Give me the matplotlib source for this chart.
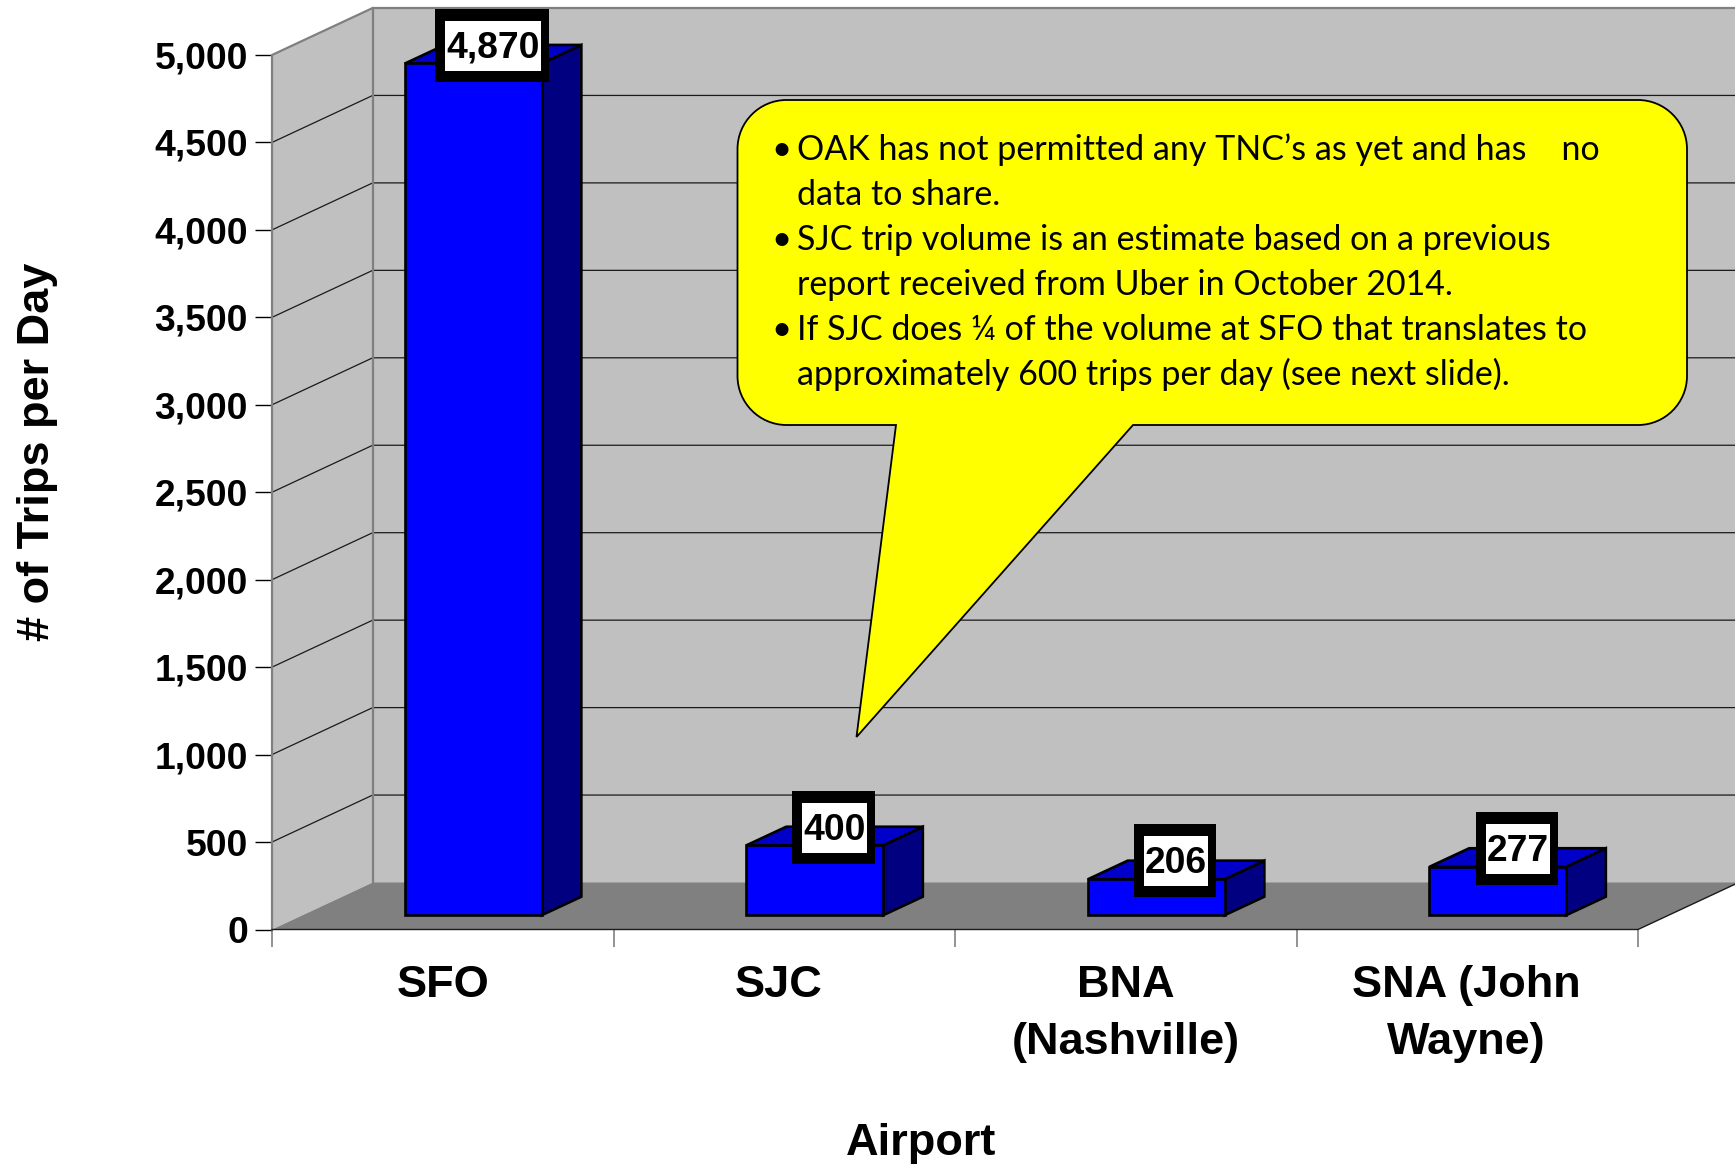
import matplotlib
matplotlib.use("Agg")
import matplotlib.pyplot as plt
from matplotlib.patches import PathPatch, Rectangle
from matplotlib.path import Path
from matplotlib.transforms import Affine2D

W, H = 1735, 1165

# Data
airports = ["SFO", "SJC", "BNA\n(Nashville)", "SNA (John\nWayne)"]
trips = [4870, 400, 206, 277]
value_labels = ["4,870", "400", "206", "277"]
y_ticks = [0, 500, 1000, 1500, 2000, 2500, 3000, 3500, 4000, 4500, 5000]
y_tick_labels = ["0", "500", "1,000", "1,500", "2,000", "2,500", "3,000", "3,500", "4,000", "4,500", "5,000"]
callout_lines = [
    "OAK has not permitted any TNC\u2019s as yet and has    no",
    "data to share.",
    "SJC trip volume is an estimate based on a previous",
    "report received from Uber in October 2014.",
    "If SJC does \u00bc of the volume at SFO that translates to",
    "approximately 600 trips per day (see next slide).",
]
callout_bullets = [True, False, True, False, True, False]

plt.rcParams["font.family"] = ["Liberation Sans", "DejaVu Sans"]
fig = plt.figure(figsize=(W / 100, H / 100), dpi=100, facecolor="white")

# Front plane of the fake 3D chart
left, right, y0, y5000 = 272, 1638, 929.5, 55
ax = fig.add_axes([left / W, 1 - y0 / H, (right - left) / W, (y0 - y5000) / H])
ax.set_xlim(0, 4)
ax.set_ylim(0, 5000)
for s in ax.spines.values():
    s.set_visible(False)
ax.patch.set_visible(False)

# Depth direction in data units
DX = 100.7 / ((right - left) / 4)
DY = 47.0 / ((y0 - y5000) / 5000)


def proj(x, y, d=0.0):
    return x + d * DX, y + d * DY


def face(points, **kw):
    xs, ys = zip(*[proj(*p) for p in points])
    ax.fill(xs, ys, clip_on=False, **kw)


# Walls and floor
face([(0, 0, 1), (4, 0, 1), (4, 5000, 1), (0, 5000, 1)], fc="#c0c0c0", ec="none", zorder=1)
face([(0, 0, 0), (0, 0, 1), (0, 5000, 1), (0, 5000, 0)], fc="#c0c0c0", ec="none", zorder=1)
face([(0, 0, 0), (4, 0, 0), (4, 0, 1), (0, 0, 1)], fc="#808080", ec="none", zorder=1)

# Gridlines on both walls
for v in y_ticks[1:-1]:
    xs, ys = zip(proj(0, v, 0), proj(0, v, 1), proj(4, v, 1))
    ax.plot(xs, ys, color="#1a1a1a", lw=0.9, clip_on=False, zorder=2)

# Wall borders
xs, ys = zip(proj(0, 0, 0), proj(0, 5000, 0), proj(0, 5000, 1), proj(4, 5000, 1))
ax.plot(xs, ys, color="#808080", lw=1.6, clip_on=False, zorder=2)
xs, ys = zip(proj(0, 0, 1), proj(0, 5000, 1))
ax.plot(xs, ys, color="#808080", lw=1.6, clip_on=False, zorder=2)
xs, ys = zip(proj(0, 0, 0), proj(4, 0, 0), proj(4, 0, 1))
ax.plot(xs, ys, color="#1a1a1a", lw=1.0, clip_on=False, zorder=2)

# Axes ticks and labels
ax.set_yticks(y_ticks)
ax.set_yticklabels(y_tick_labels, fontsize=26.8, fontweight="bold")
ax.tick_params(axis="y", length=12.2, width=1, color="black", pad=5.2)
ax.set_xticks([0, 1, 2, 3, 4])
ax.set_xticklabels([])
ax.tick_params(axis="x", which="major", length=12, width=1.2, color="#808080")
ax.set_xticks([0.5, 1.5, 2.5, 3.5], minor=True)
ax.set_xticklabels(airports, minor=True, fontsize=32.5, fontweight="bold", linespacing=1.5)
ax.tick_params(axis="x", which="minor", length=0, pad=25.5)
for tick, dx in zip(ax.xaxis.get_minor_ticks(), [0, -6, 0, -1]):
    tick.label1.set_transform(tick.label1.get_transform() + Affine2D().translate(dx, 0))

ax.set_xlabel("Airport", fontsize=32.5, fontweight="bold", va="center")
ax.xaxis.set_label_coords((921 - left) / (right - left), (y0 - 1143) / (y0 - y5000))
ax.set_ylabel("# of Trips per Day", fontsize=32.5, fontweight="bold", va="center")
ax.yaxis.set_label_coords((37 - left) / (right - left), (y0 - 452) / (y0 - y5000))

# Bars
bar_w = 0.4
d0, d1 = 0.303, 0.698
edge = dict(ec="black", lw=1.9, joinstyle="miter")
centers = [i + 0.5 for i in range(len(trips))]
for c, v in zip(centers, trips):
    x0, x1 = c - bar_w / 2, c + bar_w / 2
    face([(x1, 0, d0), (x1, 0, d1), (x1, v, d1), (x1, v, d0)], fc="#000080", zorder=3, **edge)
    face([(x0, v, d0), (x1, v, d0), (x1, v, d1), (x0, v, d1)], fc="#0000c8", zorder=3, **edge)
    bx, by = proj(x0, 0, d0)
    ax.bar(bx, v, bar_w, bottom=by, align="edge", color="#0000ff", edgecolor="black",
           linewidth=1.9, clip_on=False, zorder=4)

# Overlay in image pixels for the callout and the value boxes
over = fig.add_axes([0, 0, 1, 1])
over.set_xlim(0, W)
over.set_ylim(H, 0)
over.axis("off")
over.patch.set_visible(False)


def to_pixels(p):
    return over.transData.inverted().transform(ax.transData.transform(p))


# Value labels with the heavy black frame
renderer = fig.canvas.get_renderer()
for c, v, label in zip(centers, trips, value_labels):
    px, py = to_pixels(proj(c, v, (d0 + d1) / 2))
    py -= 8.5
    txt = over.text(px, py - 1.5, label, fontsize=26.8, fontweight="bold", ha="center", va="center_baseline", zorder=12)
    tw = txt.get_window_extent(renderer).width + 2
    over.add_patch(Rectangle((px - tw / 2 - 10, py - 37), tw + 18, 73, fc="black", ec="none", zorder=10))
    over.add_patch(Rectangle((px - tw / 2, py - 25), tw, 50, fc="white", ec="none", zorder=11))

# Yellow speech bubble
bl, br, bt, bb, r = 737.5, 1687, 100, 425, 49
k = r * 0.45
verts = [
    (bl + r, bt), (br - r, bt),
    (br - k, bt), (br, bt + k), (br, bt + r),
    (br, bb - r),
    (br, bb - k), (br - k, bb), (br - r, bb),
    (1133, bb), (856.5, 737), (896, bb), (bl + r, bb),
    (bl + k, bb), (bl, bb - k), (bl, bb - r),
    (bl, bt + r),
    (bl, bt + k), (bl + k, bt), (bl + r, bt),
    (bl + r, bt),
]
L, C = Path.LINETO, Path.CURVE4
codes = [Path.MOVETO, L, C, C, C, L, C, C, C, L, L, L, L, C, C, C, L, C, C, C, Path.CLOSEPOLY]
over.add_patch(PathPatch(Path(verts, codes), fc="#ffff00", ec="black", lw=1.3, zorder=8))

for i, (line, bullet) in enumerate(zip(callout_lines, callout_bullets)):
    y = 160 + i * 45
    if bullet:
        over.text(781.5, y, "\u2022", family="Lato", fontsize=25, ha="center", va="baseline", zorder=9)
    over.text(797, y, line, family="Lato", fontsize=24.5, ha="left", va="baseline", color="black", zorder=9)

fig.savefig("out.png", dpi=100)
